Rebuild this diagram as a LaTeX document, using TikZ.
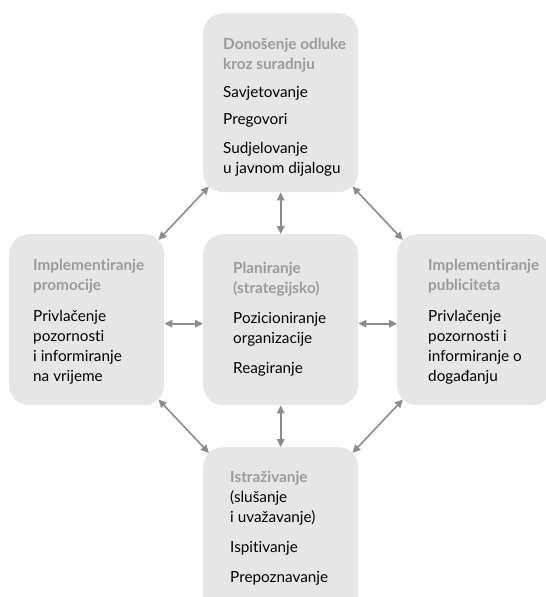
\documentclass[tikz,border=0pt]{standalone}
\usepackage{fontspec}
\setmainfont[Ligatures={NoCommon}]{Lato}
\usetikzlibrary{arrows.meta,calc}
\definecolor{boxgray}{HTML}{E6E6E6}
\definecolor{headgray}{HTML}{9B9B9B}
\definecolor{arrowgray}{HTML}{8C8C8C}
\begin{document}
\begin{tikzpicture}[x=1pt,y=-1pt,
  panel/.style={rectangle,rounded corners=20pt,fill=boxgray,draw=none,
    anchor=north west,inner sep=0pt,minimum width=155pt},
  label/.style={anchor=base west,inner sep=0pt,align=left,
    font=\fontsize{15.3}{20}\selectfont},
  link/.style={arrowgray,line width=1.6pt,
    {Triangle[length=8pt,width=7.5pt]}-{Triangle[length=8pt,width=7.5pt]}}]
\useasboundingbox (0,0) rectangle (546,597);
\node[panel,minimum height=179pt] (top) at (203,13) {};
\node[panel,minimum height=171pt] (left) at (9,234) {};
\node[panel,minimum height=171pt] (center) at (203,234) {};
\node[panel,minimum height=171pt] (right) at (397,234) {};
\node[panel,minimum height=180pt] (bottom) at (203,447) {};

\newcommand{\hdg}[1]{\textcolor{headgray}{\bfseries #1}}

\node[label] (toptext) at (223,173) {\hdg{Donošenje odluke}\\\hdg{kroz suradnju}\\[8pt]Savjetovanje\\[7pt]Pregovori\\[9pt]Sudjelovanje\\u javnom dijalogu};
\node[label] (lefttext) at (33,381) {\hdg{Implementiranje}\\\hdg{promocije}\\[11pt]Privlačenje\\pozornosti\\i informiranje\\na vrijeme};
\node[label] (centertext) at (233,373) {\hdg{Planiranje}\\\hdg{(strategijsko)}\\[10pt]Pozicioniranje\\organizacije\\[10pt]Reagiranje};
\node[label] (righttext) at (428,381) {\hdg{Implementiranje}\\\hdg{publiciteta}\\[11pt]Privlačenje\\pozornosti i\\informiranje o\\događanju};
\node[label] (bottomtext) at (230,582) {\hdg{Istraživanje}\\(slušanje\\i uvažavanje)\\[10pt]Ispitivanje\\[10pt]Prepoznavanje};

\draw[link] (top.south) -- (center.north);
\draw[link] (center.south) -- (bottom.north);
\draw[link] ([yshift=-4pt]left.east) -- ([yshift=-4pt]center.west);
\draw[link] ([yshift=-4pt]center.east) -- ([yshift=-4pt]right.west);
\draw[link] ([shift={(5.9,-5.9)}]top.south west) -- ([shift={(-5.9,5.9)}]left.north east);
\draw[link] ([shift={(-5.9,-5.9)}]top.south east) -- ([shift={(5.9,5.9)}]right.north west);
\draw[link] ([shift={(-5.9,-5.9)}]left.south east) -- ([shift={(5.9,5.9)}]bottom.north west);
\draw[link] ([shift={(5.9,-5.9)}]right.south west) -- ([shift={(-5.9,5.9)}]bottom.north east);
\end{tikzpicture}
\end{document}
